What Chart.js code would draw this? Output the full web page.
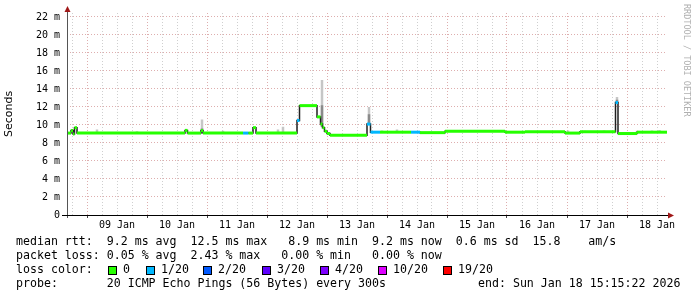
<!DOCTYPE html>
<html>
<head>
<meta charset="utf-8">
<script src="https://cdn.jsdelivr.net/npm/chart.js@4/dist/chart.umd.min.js"></script>
<style>
    body { margin: 0; background: #fff; }
    #wrap { position: relative; width: 697px; height: 297px; }
    .leg { position: absolute; font: 11.6px "DejaVu Sans Mono", monospace; color: #000; white-space: pre; line-height: 14px; }
    .sq { position: absolute; width: 7px; height: 7px; border: 1px solid #000; }
    #rrd { position: absolute; left: 682px; top: 4px; font: 8.5px "DejaVu Sans Mono", monospace; color: #b0b0b0; writing-mode: vertical-rl; white-space: pre; }
</style>
</head>
<body>
<div id="wrap">
    <canvas id="grafico" width="697" height="297"></canvas>
    <div id="rrd">RRDTOOL / TOBI OETIKER</div>
    <div class="leg" style="left:16px;top:234px">median rtt:  9.2 ms avg  12.5 ms max   8.9 ms min  9.2 ms now  0.6 ms sd  15.8    am/s</div>
    <div class="leg" style="left:16px;top:248px">packet loss: 0.05 % avg  2.43 % max   0.00 % min   0.00 % now</div>
    <div class="leg" style="left:16px;top:262px">loss color:</div>
    <div id="lossLegend"></div>
    <div class="leg" style="left:16px;top:276px">probe:       20 ICMP Echo Pings (56 Bytes) every 300s</div>
    <div class="leg" style="left:478px;top:276px">end: Sun Jan 18 15:15:22 2026</div>
</div>
<script>
// horas desde el inicio del grafico (08 Jan ~16:00), 10 dias = 240 h
const endHour = 240;
const stepHours = [0, 1.6, 2.4, 3, 4, 47.2, 48.2, 53.6, 54.4, 70.4, 72.6, 74.4, 75.6, 92, 93, 100, 101.4, 102.2, 103, 104, 105.2, 120, 121.4, 125.2, 137.6, 141.2, 151.2, 175.2, 183.2, 199.2, 205.2, 219.4, 220.4, 228];
const medianMs = [9.1, 9.4, 9.0, 9.7, 9.1, 9.4, 9.1, 9.4, 9.1, 9.1, 9.1, 9.7, 9.1, 10.5, 12.15, 10.9, 10.1, 9.7, 9.3, 9.05, 8.85, 10.1, 9.2, 9.2, 9.2, 9.15, 9.3, 9.2, 9.25, 9.1, 9.25, 12.5, 9.05, 9.2];
const lossOf20 = [0, 0, 0, 0, 0, 0, 0, 0, 0, 1, 0, 0, 0, 1, 0, 0, 0, 0, 0, 0, 0, 1, 1, 0, 1, 0, 0, 0, 0, 0, 0, 1, 0, 0];

// humo (dispersion de los pings)
const smokeHours = [12, 28, 54, 62.4, 84.4, 86.4, 102, 120.8, 126, 132, 200.4, 207.2, 214.8, 220, 228, 234, 237];
const smokeLow = [9.1, 9.1, 9.1, 9.1, 9.1, 9.1, 9.8, 10.2, 9.2, 9.2, 9.2, 9.2, 9.2, 12.5, 9.2, 9.2, 9.2];
const smokeHigh = [9.5, 9.3, 10.6, 9.35, 9.5, 9.8, 15.0, 12.0, 9.4, 9.5, 9.4, 9.35, 9.4, 13.1, 9.35, 9.4, 9.45];
// parte mas densa del humo en los picos altos
const coreHours = [54, 102, 120.8, 220];
const coreLow = [9.2, 9.8, 10.2, 12.5];
const coreHigh = [9.6, 12.2, 11.2, 12.8];

const dayLabels = ["09 Jan", "10 Jan", "11 Jan", "12 Jan", "13 Jan", "14 Jan", "15 Jan", "16 Jan", "17 Jan", "18 Jan"];
const firstMidnight = 8;
const yTicks = [0, 1, 2, 3, 4, 5, 6, 7, 8, 9, 10, 11, 12, 13, 14, 15, 16, 17, 18, 19, 20, 21, 22];

const lossLevels = ["0", "1/20", "2/20", "3/20", "4/20", "10/20", "19/20"];
const lossColors = ["#26ff00", "#00b8ff", "#0059ff", "#5e00ff", "#7e00ff", "#dd00ff", "#ff0000"];
const lossIndex = { 0: 0, 1: 1, 2: 2, 3: 3, 4: 4, 10: 5, 19: 6 };

const majorGrid = "rgba(200,120,120,0.6)";
const minorGrid = "#cfcfcf";

// leyenda de colores
const sqX = [108, 146, 203, 262, 320, 378, 443];
let htmlLeg = "";
lossLevels.forEach((l, i) => {
    htmlLeg += `<div class="sq" style="left:${sqX[i]}px;top:266px;background:${lossColors[i]}"></div>`;
    htmlLeg += `<div class="leg" style="left:${sqX[i] + 15}px;top:262px">${l}</div>`;
});
document.getElementById("lossLegend").innerHTML = htmlLeg;

// lineas de la mediana
const medianLine = stepHours.map((h, i) => ({ x: h, y: medianMs[i] }));
medianLine.push({ x: endHour, y: medianMs[medianMs.length - 1] });

const bandPieces = [];
stepHours.forEach((h, i) => {
    const next = i + 1 < stepHours.length ? stepHours[i + 1] : endHour;
    bandPieces.push({ x: h, y: medianMs[i] }, { x: next, y: medianMs[i] }, { x: next, y: null });
});

function piezasVerticales(horas, bajo, alto) {
    const out = [];
    horas.forEach((h, i) => out.push({ x: h, y: bajo[i] }, { x: h, y: alto[i] }, { x: h, y: null }));
    return out;
}

const isMidnight = v => ((v - firstMidnight) % 24 + 24) % 24 === 0;
const isNoon = v => ((v - firstMidnight) % 24 + 24) % 24 === 12;

const axisPlugin = {
    id: "ejes",
    afterDraw(chart) {
        const { ctx, chartArea: a } = chart;
        ctx.save();
        // eje Y
        ctx.strokeStyle = "#555";
        ctx.lineWidth = 1;
        ctx.beginPath();
        ctx.moveTo(a.left + 0.5, a.bottom + 3);
        ctx.lineTo(a.left + 0.5, 10);
        ctx.stroke();
        // eje X
        ctx.strokeStyle = "#000";
        ctx.beginPath();
        ctx.moveTo(a.left - 5, a.bottom + 0.5);
        ctx.lineTo(a.right + 3, a.bottom + 0.5);
        ctx.stroke();
        // flechas
        ctx.fillStyle = "#a01818";
        ctx.beginPath();
        ctx.moveTo(a.left + 0.5, 6);
        ctx.lineTo(a.left - 2.5, 12);
        ctx.lineTo(a.left + 3.5, 12);
        ctx.closePath();
        ctx.fill();
        ctx.beginPath();
        ctx.moveTo(a.right + 7, a.bottom + 0.5);
        ctx.lineTo(a.right + 1, a.bottom - 2.5);
        ctx.lineTo(a.right + 1, a.bottom + 3.5);
        ctx.closePath();
        ctx.fill();
        ctx.restore();
    }
};

new Chart(document.getElementById("grafico"), {
    type: "line",
    data: {
        datasets: [
            {
                data: bandPieces,
                borderWidth: 3,
                borderCapStyle: "butt",
                pointRadius: 0,
                spanGaps: false,
                segment: {
                    borderColor: c => lossColors[lossIndex[lossOf20[Math.floor(c.p0DataIndex / 3)]]]
                }
            },
            {
                data: medianLine,
                stepped: true,
                borderColor: "#202020",
                borderWidth: 1.5,
                pointRadius: 0
            },
            {
                data: piezasVerticales(coreHours, coreLow, coreHigh),
                borderColor: "#8a8a8a",
                borderWidth: 2.5,
                borderCapStyle: "butt",
                pointRadius: 0,
                spanGaps: false
            },
            {
                data: piezasVerticales(smokeHours, smokeLow, smokeHigh),
                borderColor: "#c6c6c6",
                borderWidth: 2.5,
                borderCapStyle: "butt",
                pointRadius: 0,
                spanGaps: false
            }
        ]
    },
    options: {
        responsive: false,
        animation: false,
        devicePixelRatio: 1,
        layout: { padding: { top: 13, right: 30, left: 0, bottom: 0 } },
        plugins: { legend: { display: false }, tooltip: { enabled: false } },
        scales: {
            x: {
                type: "linear",
                min: 0,
                max: endHour,
                afterBuildTicks: s => {
                    const t = [];
                    for (let v = firstMidnight - 6; v < endHour; v += 6) t.push({ value: v });
                    s.ticks = t;
                },
                afterFit: s => { s.height = 82; },
                ticks: {
                    autoSkip: false,
                    maxRotation: 0,
                    padding: 1,
                    color: "#000",
                    font: { family: "DejaVu Sans Mono", size: 10 },
                    callback: v => isNoon(v) ? dayLabels[(v - firstMidnight - 12) / 24] : ""
                },
                grid: {
                    color: c => isMidnight(c.tick.value) ? majorGrid : minorGrid,
                    tickColor: c => isMidnight(c.tick.value) ? "#444" : "rgba(0,0,0,0)",
                    tickLength: 3
                },
                border: { display: false, dash: [1, 2] }
            },
            y: {
                min: 0,
                max: 22.44,
                afterBuildTicks: s => { s.ticks = yTicks.map(v => ({ value: v })); },
                afterFit: s => { s.width = 67; },
                ticks: {
                    padding: 7,
                    color: "#000",
                    font: { family: "DejaVu Sans Mono", size: 10 },
                    callback: v => v % 2 ? "" : (v === 0 ? "0" : v + " m")
                },
                grid: {
                    drawTicks: false,
                    color: c => c.tick.value === 0 ? "rgba(0,0,0,0)" : (c.tick.value % 2 ? minorGrid : majorGrid)
                },
                border: { display: false, dash: [1, 2] },
                title: {
                    display: true,
                    text: "Seconds",
                    color: "#000",
                    font: { family: "DejaVu Sans", size: 11 },
                    padding: { top: 3, bottom: 0 }
                }
            }
        }
    },
    plugins: [axisPlugin]
});
</script>
</body>
</html>
